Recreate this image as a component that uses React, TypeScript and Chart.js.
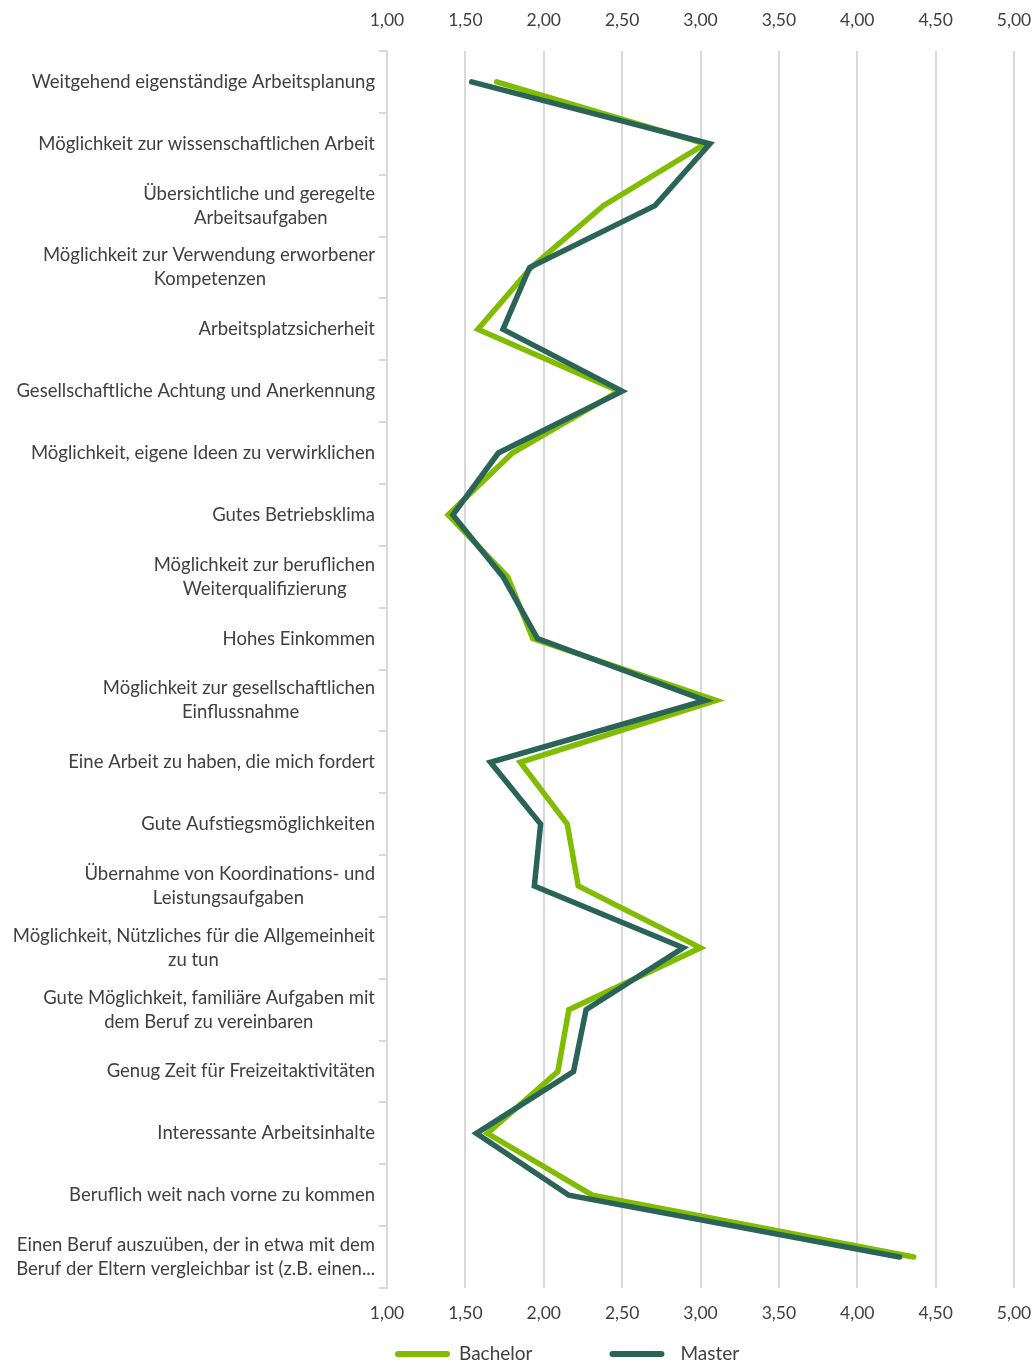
import React, { useEffect, useRef } from "react";
import { Chart, registerables } from "chart.js";

Chart.register(...registerables);

const categories: string[][] = [
  ["Weitgehend eigenständige Arbeitsplanung"],
  ["Möglichkeit zur wissenschaftlichen Arbeit"],
  ["Übersichtliche und geregelte", "Arbeitsaufgaben"],
  ["Möglichkeit zur Verwendung erworbener", "Kompetenzen"],
  ["Arbeitsplatzsicherheit"],
  ["Gesellschaftliche Achtung und Anerkennung"],
  ["Möglichkeit, eigene Ideen zu verwirklichen"],
  ["Gutes Betriebsklima"],
  ["Möglichkeit zur beruflichen", "Weiterqualifizierung"],
  ["Hohes Einkommen"],
  ["Möglichkeit zur gesellschaftlichen", "Einflussnahme"],
  ["Eine Arbeit zu haben, die mich fordert"],
  ["Gute Aufstiegsmöglichkeiten"],
  ["Übernahme von Koordinations- und", "Leistungsaufgaben"],
  ["Möglichkeit, Nützliches für die Allgemeinheit", "zu tun"],
  ["Gute Möglichkeit, familiäre Aufgaben mit", "dem Beruf zu vereinbaren"],
  ["Genug Zeit für Freizeitaktivitäten"],
  ["Interessante Arbeitsinhalte"],
  ["Beruflich weit nach vorne zu kommen"],
  ["Einen Beruf auszuüben, der in etwa mit dem", "Beruf der Eltern vergleichbar ist (z.B. einen..."],
];

const bachelorValues = [1.7, 3.03, 2.38, 1.92, 1.58, 2.48, 1.8, 1.39, 1.77, 1.93, 3.1, 1.85, 2.15, 2.22, 3.0, 2.16, 2.09, 1.64, 2.31, 4.36];
const masterValues = [1.54, 3.06, 2.71, 1.91, 1.74, 2.5, 1.71, 1.42, 1.74, 1.96, 3.03, 1.66, 1.98, 1.94, 2.89, 2.27, 2.19, 1.57, 2.16, 4.27];

const seriesNames = ["Bachelor", "Master"];
const axisMin = 1;
const axisMax = 5;
const axisStep = 0.5;

const FONT = "Lato";
const LABEL_SIZE = 18.5;
const TICK_SIZE = 17.5;
const TEXT_COLOR = "#404040";
const GRID_COLOR = "#d9d9d9";
const BACHELOR_COLOR = "#80BC00";
const MASTER_COLOR = "#2A6458";

function centerLines(lines: string[]): string[] | string {
  if (lines.length === 1) return lines[0];
  const c = document.createElement("canvas").getContext("2d")!;
  c.font = `${LABEL_SIZE}px ${FONT}`;
  const widths = lines.map((l) => c.measureText(l).width);
  const maxW = Math.max(...widths);
  const sp = c.measureText("\u00A0").width || 4;
  return lines.map((l, i) => {
    const n = Math.round((maxW - widths[i]) / 2 / sp);
    return l + "\u00A0".repeat(Math.max(0, n));
  });
}

const fmt = (v: number) => v.toFixed(2).replace(".", ",");

// Legend drawn below the x axis: line samples with text, spaced like the original
const bottomLegend = {
  id: "bottomLegend",
  afterDraw(chart: any) {
    const ctx = chart.ctx as CanvasRenderingContext2D;
    const y = 1354;
    const lineLen = 55;
    const textGaps = [9, 16];
    const itemGap = 77;
    ctx.save();
    ctx.font = `19px ${FONT}`;
    ctx.textBaseline = "middle";
    ctx.textAlign = "left";
    let x = 395;
    chart.data.datasets.forEach((ds: any, i: number) => {
      ctx.strokeStyle = ds.borderColor;
      ctx.lineWidth = 6;
      ctx.lineCap = "round";
      ctx.beginPath();
      ctx.moveTo(x + 3, y);
      ctx.lineTo(x + lineLen - 3, y);
      ctx.stroke();
      ctx.fillStyle = TEXT_COLOR;
      ctx.fillText(ds.label, x + lineLen + textGaps[i], y);
      x += lineLen + textGaps[i] + ctx.measureText(ds.label).width + itemGap;
    });
    ctx.restore();
  },
};

const xAxisFit = (height: number) => (scale: any) => {
  scale.height = height;
  scale.paddingLeft = 0;
  scale.paddingRight = 18;
};

export default function App() {
  const ref = useRef<HTMLCanvasElement | null>(null);

  useEffect(() => {
    if (!ref.current) return;
    const labels = categories.map(centerLines);
    const chart = new Chart(ref.current, {
      type: "line",
      data: {
        labels,
        datasets: [
          {
            label: seriesNames[0],
            data: bachelorValues,
            borderColor: BACHELOR_COLOR,
            backgroundColor: BACHELOR_COLOR,
            borderWidth: 5.5,
            pointRadius: 0,
            tension: 0,
            borderCapStyle: "round",
            order: 1,
            xAxisID: "x",
          },
          {
            label: seriesNames[1],
            data: masterValues,
            borderColor: MASTER_COLOR,
            backgroundColor: MASTER_COLOR,
            borderWidth: 5.5,
            pointRadius: 0,
            tension: 0,
            borderCapStyle: "round",
            order: 0,
            xAxisID: "x",
          },
        ],
      },
      options: {
        indexAxis: "y",
        animation: false,
        responsive: true,
        maintainAspectRatio: false,
        layout: { padding: { left: 8, right: 0, top: 0, bottom: 0 } },
        scales: {
          x: {
            type: "linear",
            position: "bottom",
            min: axisMin,
            max: axisMax,
            afterFit: xAxisFit(76),
            ticks: {
              stepSize: axisStep,
              callback: (v: any) => fmt(Number(v)),
              color: TEXT_COLOR,
              font: { family: FONT, size: TICK_SIZE },
              padding: 14.5,
            },
            grid: { color: GRID_COLOR, lineWidth: 2, drawTicks: false },
            border: { display: false },
          },
          x2: {
            type: "linear",
            position: "top",
            min: axisMin,
            max: axisMax,
            afterFit: xAxisFit(51),
            ticks: {
              stepSize: axisStep,
              callback: (v: any) => fmt(Number(v)),
              color: TEXT_COLOR,
              font: { family: FONT, size: TICK_SIZE },
              padding: 20.5,
            },
            grid: { display: false, drawTicks: false },
            border: { display: false },
          },
          y: {
            type: "category",
            offset: true,
            afterFit: (scale: any) => {
              scale.width = 379;
            },
            ticks: {
              color: TEXT_COLOR,
              font: { family: FONT, size: LABEL_SIZE, lineHeight: 1.3 },
              padding: 4,
              autoSkip: false,
            },
            grid: {
              offset: true,
              drawOnChartArea: false,
              color: GRID_COLOR,
              lineWidth: 2,
              tickLength: 8,
            },
            border: { display: true, color: GRID_COLOR, width: 2 },
          },
        },
        plugins: {
          legend: { display: false },
          tooltip: { enabled: false },
        },
      },
      plugins: [bottomLegend],
    } as any);
    return () => chart.destroy();
  }, []);

  return (
    <div style={{ position: "fixed", left: 0, top: 0, width: 1032, height: 1364, background: "#fff" }}>
      <canvas ref={ref} />
    </div>
  );
}
